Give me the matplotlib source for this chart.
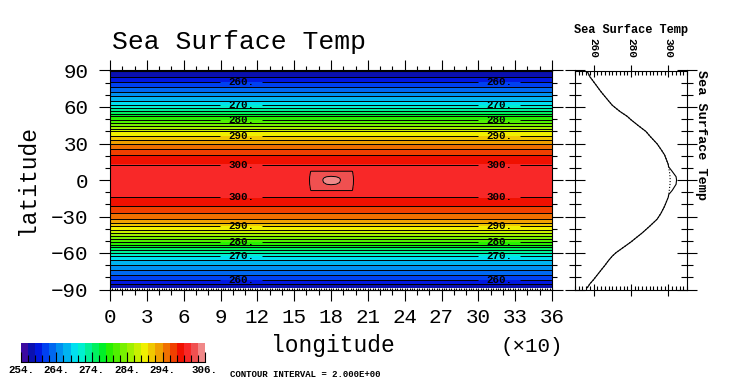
import matplotlib
matplotlib.use("Agg")
import matplotlib.pyplot as plt
import numpy as np
from matplotlib.colors import ListedColormap, BoundaryNorm
from matplotlib.ticker import MultipleLocator, FuncFormatter

plt.rcParams['font.family'] = ['Liberation Mono', 'DejaVu Sans Mono']

# zonal sea surface temperature (K) read at these latitudes
lat = [-88.5, -85.3, -81.8, -77.9, -74.0, -70.2, -66.1, -62.5, -59.7, -55.3,
       -50.9, -48.4, -43.5, -38.0, -32.2, -27.5, -21.5, -14.0, -12.0, -8.5,
       -3.5, 0.0, 2.7, 7.0, 11.0, 12.6, 20.6, 25.3, 29.7, 36.3,
       39.9, 44.6, 49.5, 52.3, 56.4, 61.4, 65.0, 72.4, 80.7, 84.8, 88.5]
sst_zonal = [256.6, 258, 260, 262, 264, 266, 268, 270, 272, 276,
             280, 282, 286, 290, 294, 296, 298, 300, 300.2, 300.5,
             300.9, 301.0, 300.9, 300.6, 300.1, 300, 298, 296, 294, 290,
             288, 284, 280, 278, 274, 270, 268, 264, 260, 258, 256.8]
lon = [0, 155, 164, 174, 180, 187, 197, 205, 360]

# warm patch near 180E, K above the zonal value
patch_lat = [-12.0, -8.5, -3.5, 0.0, 2.7, 7.0, 11.0]
patch_lon = [155, 164, 174, 180, 187, 197, 205]
patch = [[0, 0.0, 0.0, 0.0, 0.0, 0.0, 0],
         [0, 1.6, 1.6, 1.6, 1.6, 1.6, 0],
         [0, 1.3, 3.0, 3.25, 3.0, 1.3, 0],
         [0, 1.2, 3.15, 3.4, 3.15, 1.2, 0],
         [0, 1.3, 3.0, 3.25, 3.0, 1.3, 0],
         [0, 1.5, 1.5, 1.5, 1.5, 1.5, 0],
         [0, 0.0, 0.0, 0.0, 0.0, 0.0, 0]]

levels = np.arange(254, 308, 2)
label_levels = [260, 270, 280, 290, 300]
cbar_ticks = [254, 264, 274, 284, 294, 306]
palette = ["#3c0aa0", "#0a10b0", "#0018e0", "#0040f0", "#0068f0", "#0090f0",
           "#00b4f0", "#00e0f0", "#00f0d0", "#00f098", "#00f060", "#00f028",
           "#28f000", "#50f000", "#78f000", "#a0f000", "#c8f000", "#f0f000",
           "#f0c800", "#f0a000", "#f07000", "#f04000", "#f01000", "#f82828",
           "#f05050", "#f08888"]

W, H = 748, 390


def fx(x):
    return x / W


def fy(y):
    return 1 - y / H


sst = np.tile(np.array(sst_zonal)[:, None], (1, len(lon)))
for i, la in enumerate(patch_lat):
    for j, lo in enumerate(patch_lon):
        sst[lat.index(la), lon.index(lo)] += patch[i][j]

cmap = ListedColormap(palette)
norm = BoundaryNorm(levels, cmap.N)

fig = plt.figure(figsize=(W / 100, H / 100), dpi=100)

# ---- main map
ax = fig.add_axes([fx(110), fy(289.5), fx(442), 219 / H])
cf = ax.contourf(lon, lat, sst, levels=levels, cmap=cmap, norm=norm)
plain_levels = [l for l in levels if l not in label_levels]
ax.contour(lon, lat, sst, levels=plain_levels, colors='k', linewidths=0.7)
cs = ax.contour(lon, lat, sst, levels=label_levels, colors='k', linewidths=0.7)
pos = []
for lev in label_levels:
    for la, v in zip(lat, sst_zonal):
        if v == lev:
            pos.append((107, la))
            pos.append((317, la))
cs.clabel(fmt='%d.', manual=pos, inline=True, inline_spacing=8, fontsize=7.8)
for t in cs.labelTexts:
    t.set_fontweight('bold')

ax.set_xlim(0, 360)
ax.set_ylim(-90, 90)
ax.xaxis.set_major_locator(MultipleLocator(30))
ax.xaxis.set_minor_locator(MultipleLocator(10))
ax.yaxis.set_major_locator(MultipleLocator(30))
ax.yaxis.set_minor_locator(MultipleLocator(10))
ax.xaxis.set_major_formatter(FuncFormatter(lambda v, p: "%d" % round(v / 10)))
ax.yaxis.set_major_formatter(FuncFormatter(lambda v, p: ("%d" % v).replace("-", "\u2212")))
ax.tick_params(which='both', direction='out', top=True, right=True, width=0.8, labelsize=15)
ax.tick_params(which='major', length=7.6)
ax.tick_params(which='minor', length=3.6)
ax.tick_params(axis='x', pad=6)
ax.tick_params(axis='y', pad=8)
for s in ax.spines.values():
    s.set_linewidth(0.8)
for side in ('top', 'bottom'):
    sa = ax.secondary_xaxis(side)
    sa.xaxis.set_major_locator(MultipleLocator(2))
    sa.tick_params(direction='in', length=1.6, width=0.8,
                   labeltop=False, labelbottom=False)
    sa.spines[side].set_linewidth(0.8)

fig.text(fx(112), fy(49), "Sea Surface Temp", fontsize=19, va='baseline', ha='left')
fig.text(fx(333), fy(352), "longitude", fontsize=16.5, va='baseline', ha='center')
fig.text(fx(28), fy(180), "latitude", fontsize=16.5, rotation=90, va='center', ha='center')
fig.text(fx(563), fy(352), "(\u00d710)", fontsize=15, va='baseline', ha='right')

# ---- profile panel
rax = fig.add_axes([fx(575), fy(289.5), fx(112), 219 / H])
rax.plot(sst_zonal, lat, color='k', ls=':', lw=0.8)
rax.plot(sst[:, lon.index(180)], lat, color='k', lw=0.8)
rax.set_xlim(250, 310)
rax.set_ylim(-90, 90)
rax.xaxis.set_major_locator(MultipleLocator(20))
rax.xaxis.set_minor_locator(MultipleLocator(2))
rax.yaxis.set_major_locator(MultipleLocator(30))
rax.yaxis.set_minor_locator(MultipleLocator(10))
rax.tick_params(which='both', top=True, right=True, width=0.8,
                labelbottom=False, labeltop=True, labelleft=False)
rax.tick_params(axis='x', which='major', direction='inout', length=8, pad=5,
                labelsize=8, labelrotation=-90)
rax.tick_params(axis='x', which='minor', direction='in', length=3)
rax.tick_params(axis='y', which='major', direction='inout', length=14)
rax.tick_params(axis='y', which='minor', direction='inout', length=8)
for t in rax.get_xticklabels():
    t.set_fontweight('bold')
for s in rax.spines.values():
    s.set_linewidth(0.8)
fig.text(fx(631), fy(33), "Sea Surface Temp", fontsize=8.6, fontweight='bold',
         ha='center', va='baseline')
fig.text(fx(701), fy(70), "Sea Surface Temp", fontsize=9.7, fontweight='bold',
         rotation=-90, ha='center', va='top')

# ---- colour key
cax = fig.add_axes([fx(21), fy(362), fx(184), 19 / H])
cb = fig.colorbar(cf, cax=cax, orientation='horizontal', ticks=cbar_ticks, format='%d.')
cb.set_ticks(levels, minor=True)
cb.outline.set_visible(False)
cax.spines['bottom'].set_visible(True)
cax.spines['bottom'].set_linewidth(0.8)
cax.tick_params(which='both', direction='in', bottom=True, top=False, width=0.8)
cax.tick_params(which='major', length=7, pad=2, labelsize=7.8)
cax.tick_params(which='minor', length=5)
for t in cax.get_xticklabels():
    t.set_fontweight('bold')
fig.text(fx(230), fy(377), "CONTOUR INTERVAL = 2.000E+00", fontsize=6.5,
         fontweight='bold', ha='left', va='baseline')

plt.savefig("out.png", dpi=100)
